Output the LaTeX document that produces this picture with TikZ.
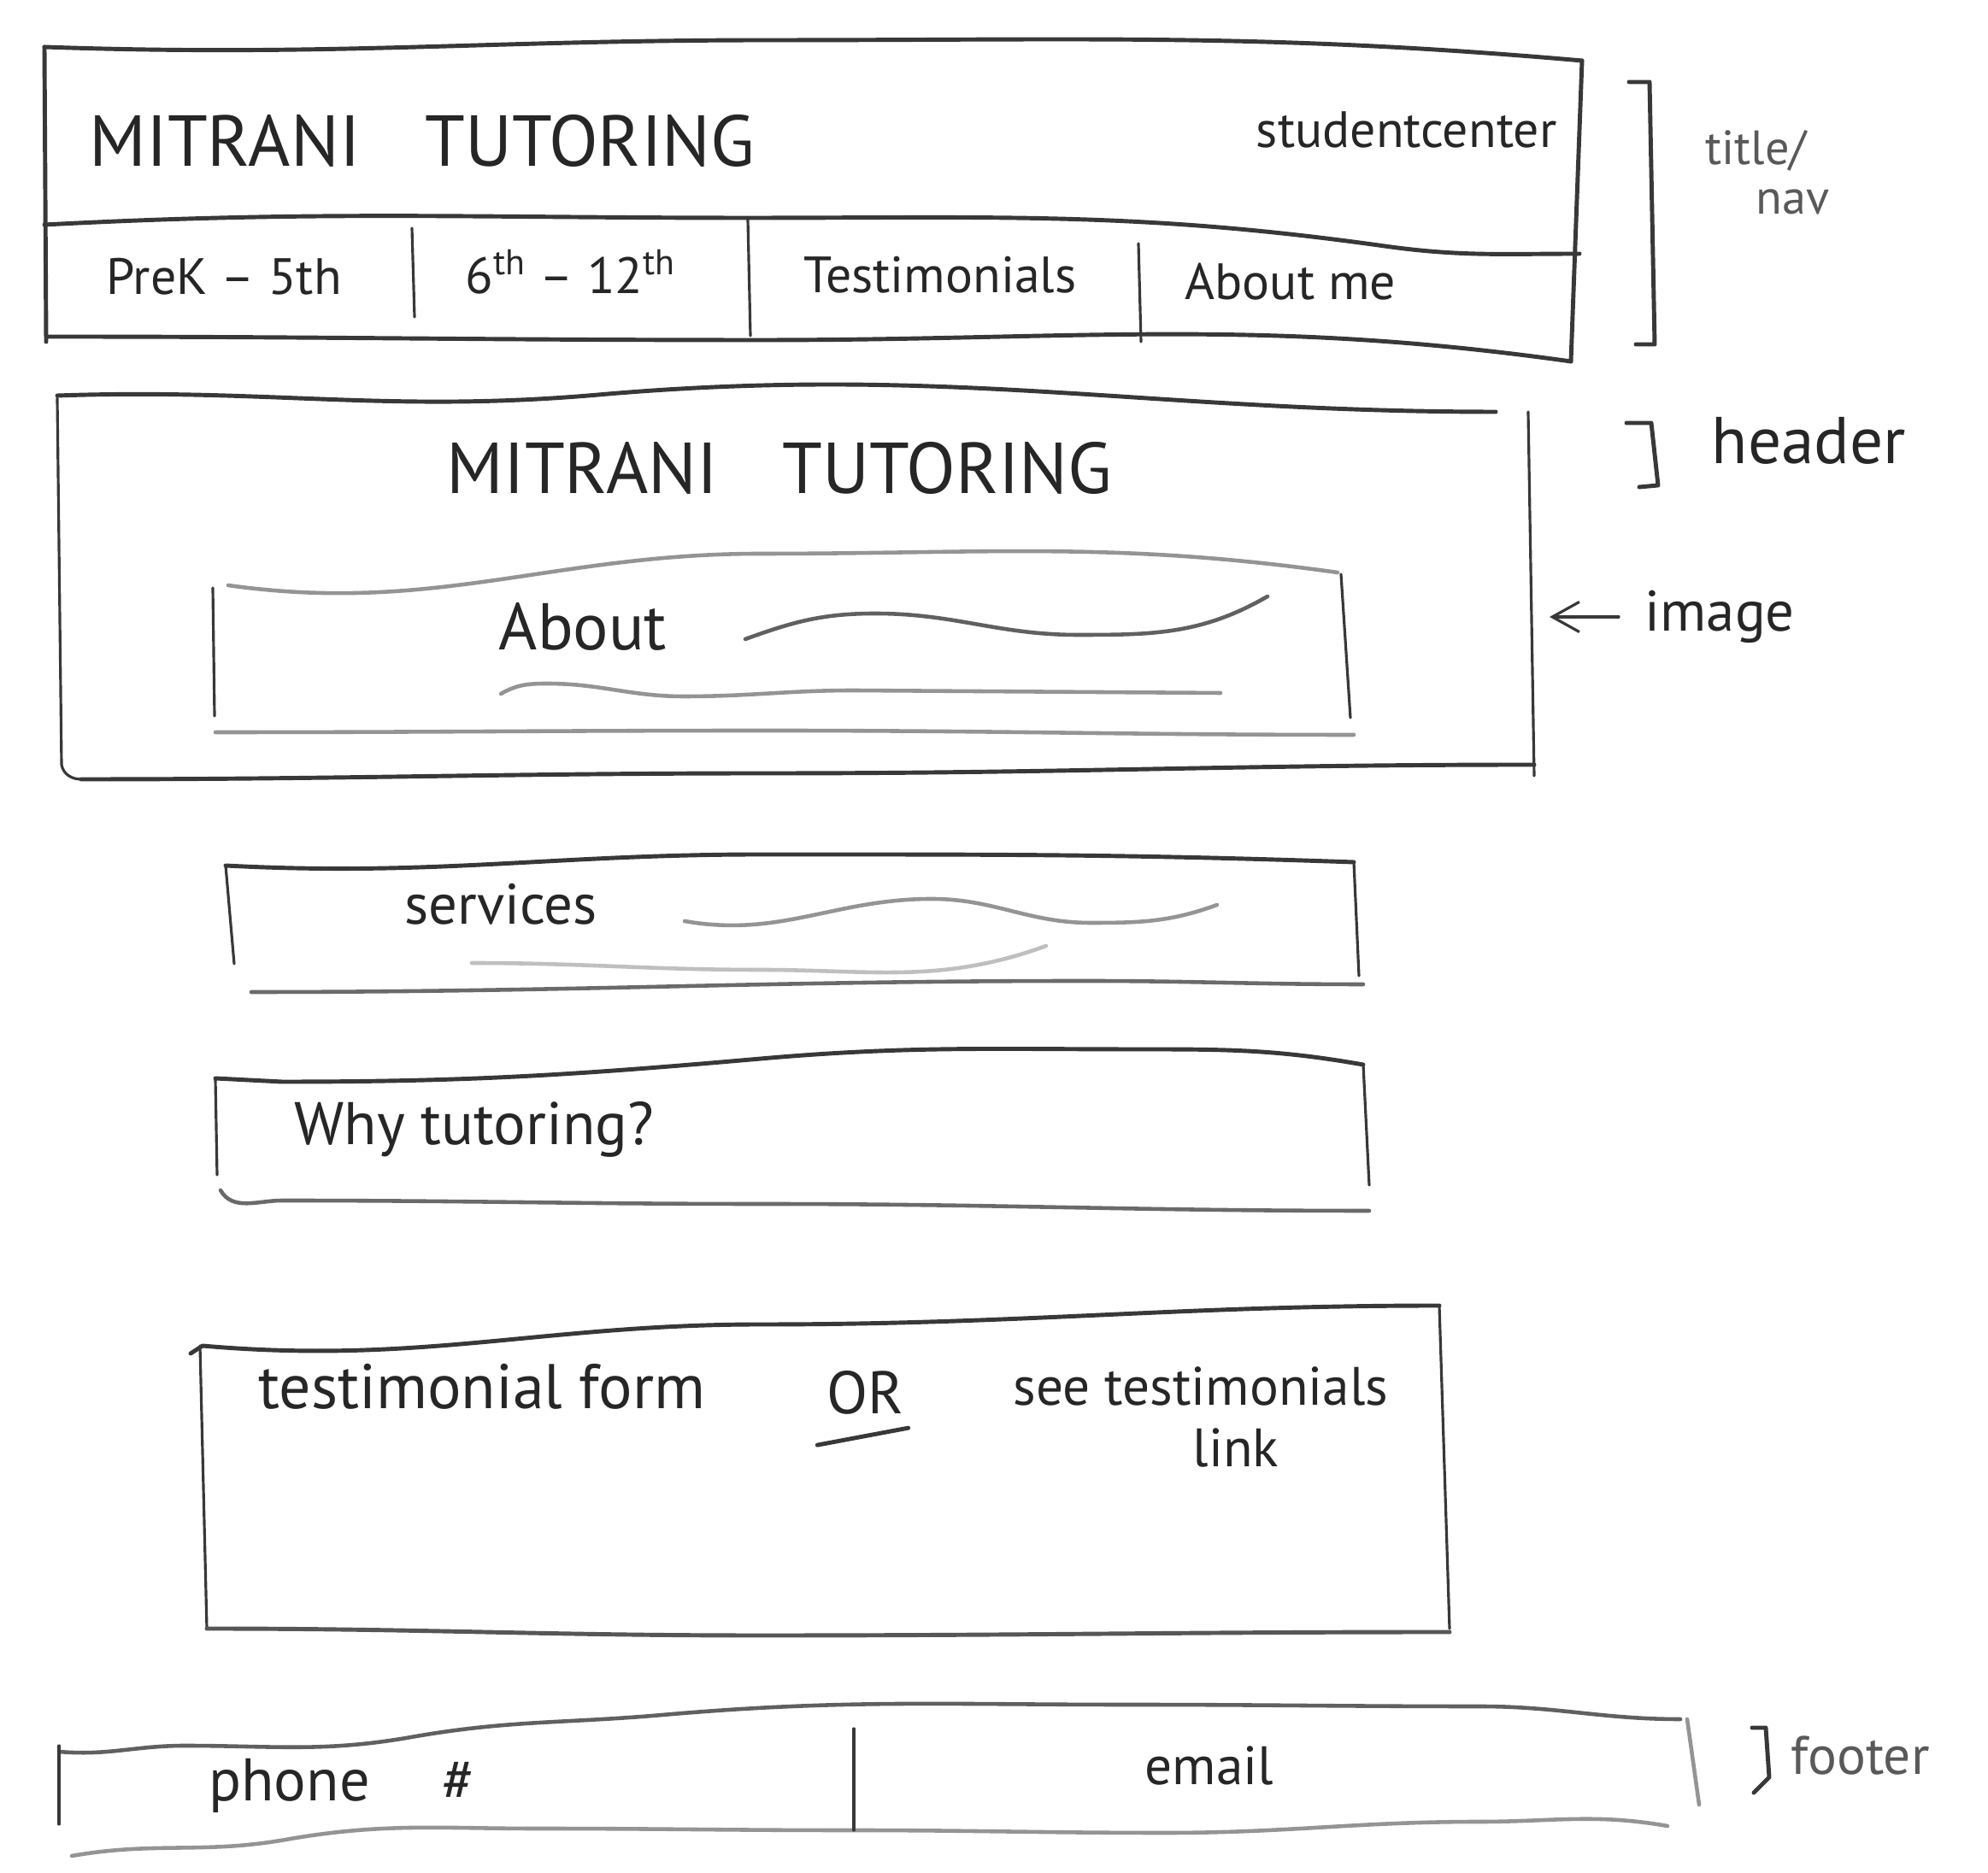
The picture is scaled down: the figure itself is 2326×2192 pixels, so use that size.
\documentclass[tikz,border=0pt]{standalone}
\usepackage{fontspec}
\setmainfont{PT Sans}
\usetikzlibrary{arrows.meta,calc,positioning}

\definecolor{bleistift}{gray}{0.22}
\definecolor{hellstift}{gray}{0.58}

\tikzset{
  strich/.style={draw=bleistift, line width=1.4pt, line cap=round, line join=round},
  duenn/.style={draw=bleistift, line width=0.9pt, line cap=round},
  zart/.style={draw=hellstift, line width=1.3pt, line cap=round},
  schrift/.style={inner sep=0pt, text=black!85, font=\fontsize{#1}{#1}\selectfont},
  notiz/.style={inner sep=0pt, text=black!65, font=\fontsize{#1}{#1}\selectfont},
}

\begin{document}
\begin{tikzpicture}[x=0.01cm,y=-0.01cm]

\useasboundingbox (0,0) rectangle (2326,2192);
\fill[white] (0,0) rectangle (2326,2192);

% ------------------- Titel / Navigation -------------------
\draw[strich] (52,55) to[out=-2,in=180] (900,47) to[out=0,in=175] (1851,71);
\draw[strich] (52,55) -- (54,400);
\draw[strich] (1851,71) -- (1838,423);
\draw[strich] (52,263) to[out=3,in=180] (875,255) to[out=0,in=172] (1620,288) to[out=-8,in=180] (1848,297);
\draw[strich] (56,394) to[out=0,in=180] (890,398) to[out=0,in=172] (1838,423);
\foreach \x/\ya/\yb in {482/267/371, 875/257/393, 1332/285/400}
  \draw[duenn] (\x,\ya) -- (\x+3,\yb);

\node[schrift=24, anchor=west] (titel) at (104,165) {MITRANI\hspace{0.9em}TUTORING};
\node[schrift=17, anchor=east] (student) at (1822,152) {studentcenter};
\node[schrift=17] (prek) at (262,324) {PreK – 5th};
\node[schrift=17] (mittel) at (668,318) {6\textsuperscript{th} – 12\textsuperscript{th}};
\node[schrift=17] (testi) at (1100,322) {Testimonials};
\node[schrift=17] (ueber) at (1510,330) {About me};

% Klammer
\draw[strich] (1906,96) -- (1930,96) -- (1936,403) -- (1914,403);
\node[notiz=16, anchor=west] (titelnotiz) at (1995,176) {title/};
\node[notiz=16, anchor=west] (navnotiz) at (2054,236) {nav};

% ------------------- Header mit Bild -------------------
\draw[strich] (67,463) to[out=2,in=185] (700,462) to[out=5,in=180] (1750,482);
\draw[duenn] (67,466) -- (72,895) to[out=-80,in=180] (95,912);
\draw[duenn] (1788,482) -- (1795,908);
\draw[strich] (95,912) to[out=0,in=180] (900,905) to[out=0,in=180] (1795,895);

% inneres Feld
\draw[zart] (267,685) to[out=-8,in=180] (890,648) to[out=0,in=172] (1565,670);
\draw[duenn] (249,688) -- (251,838);
\draw[duenn] (1569,672) -- (1580,840);
\draw[zart] (252,857) to[out=0,in=180] (900,855) to[out=0,in=180] (1584,860);

\node[schrift=24] (headtitel) at (912,548) {MITRANI\hspace{0.9em}TUTORING};
\node[schrift=22] (about) at (682,733) {About};
\draw[zart, draw=bleistift!80] (872,748) to[out=20,in=180] (1024,718) to[out=0,in=180] (1261,743) to[out=0,in=-150] (1483,698);
\draw[zart] (586,812) to[out=30,in=180] (640,800) to[out=0,in=180] (800,815) to[out=0,in=180] (1000,808) -- (1428,811);

\draw[strich] (1903,495) -- (1932,495) -- (1940,568) -- (1918,570);
\node[schrift=22, anchor=west] (headnotiz) at (2002,516) {header};

\coordinate (bildrand) at (1813,722);
\node[schrift=19, anchor=west] (bild) at (1924,722) {image};
\draw[duenn, -{Straight Barb[length=9pt,width=10pt]}] ($(bild.west)+(-30,0)$) -- (bildrand);

% ------------------- Services -------------------
\draw[strich] (264,1013) to[out=-3,in=180] (890,1000) to[out=0,in=178] (1584,1009);
\draw[duenn] (264,1013) -- (274,1128);
\draw[duenn] (1584,1009) -- (1590,1142);
\draw[zart, draw=bleistift!75] (294,1161) to[out=0,in=180] (1270,1148) to[out=0,in=180] (1595,1152);

\node[schrift=19] (services) at (586,1058) {services};
\draw[zart] (801,1078) to[out=-10,in=180] (1090,1052) to[out=0,in=180] (1276,1080) to[out=0,in=-160] (1424,1059);
\draw[zart, draw=hellstift!60] (552,1127) to[out=0,in=180] (890,1135) to[out=0,in=-160] (1224,1107);

% ------------------- Warum Nachhilfe -------------------
\draw[strich] (252,1262) -- (330,1266) to[out=0,in=185] (890,1239) to[out=5,in=180] (1335,1228) to[out=0,in=170] (1595,1246);
\draw[duenn] (252,1262) -- (254,1375);
\draw[duenn] (1595,1246) -- (1602,1387);
\draw[zart, draw=bleistift!75] (258,1393) to[out=-60,in=180] (330,1405) to[out=0,in=180] (890,1409) to[out=0,in=180] (1602,1417);

\node[schrift=20, anchor=west] (warum) at (344,1322) {Why tutoring?};

% ------------------- Testimonials -------------------
\draw[strich] (223,1584) -- (237,1575) to[out=-5,in=180] (890,1550) to[out=0,in=180] (1684,1528);
\draw[duenn] (234,1575) -- (242,1906);
\draw[duenn] (1684,1528) -- (1696,1906);
\draw[strich, draw=bleistift!85] (242,1906) to[out=0,in=180] (890,1914) to[out=0,in=180] (1696,1910);

\node[schrift=21] (formular) at (564,1623) {testimonial form};
\node[schrift=20] (oder) at (1012,1630) {OR};
\draw[strich] ($(oder.south west)+(-10,35)$) -- ($(oder.south east)+(5,15)$);
\node[schrift=18] (siehe) at (1405,1622) {see testimonials};
\node[schrift=18] (link) at (1446,1694) {link};

% ------------------- Footer -------------------
\draw[zart, draw=bleistift!80] (69,2050) to[out=-5,in=180] (216,2043) to[out=0,in=190] (481,2033) to[out=10,in=185] (775,2007) to[out=5,in=180] (1319,1995) to[out=0,in=180] (1731,1997) to[out=0,in=180] (1966,2012);
\draw[duenn] (69,2043) -- (69,2135);
\draw[zart] (1974,2012) -- (1988,2112);
\draw[zart] (84,2172) to[out=10,in=190] (334,2153) to[out=10,in=180] (628,2140) to[out=0,in=180] (996,2142) to[out=0,in=180] (1364,2145) to[out=0,in=180] (1731,2132) to[out=0,in=170] (1951,2137);
\draw[duenn] (999,2023) -- (999,2142);

\node[schrift=20] (telefon) at (400,2090) {phone\hspace{1.2em}\#};
\node[schrift=18] (mail) at (1415,2066) {email};

\draw[strich] (2050,2022) -- (2066,2022) -- (2070,2080) -- (2052,2098);
\node[notiz=18, anchor=west] (fussnotiz) at (2095,2055) {footer};

\end{tikzpicture}
\end{document}
